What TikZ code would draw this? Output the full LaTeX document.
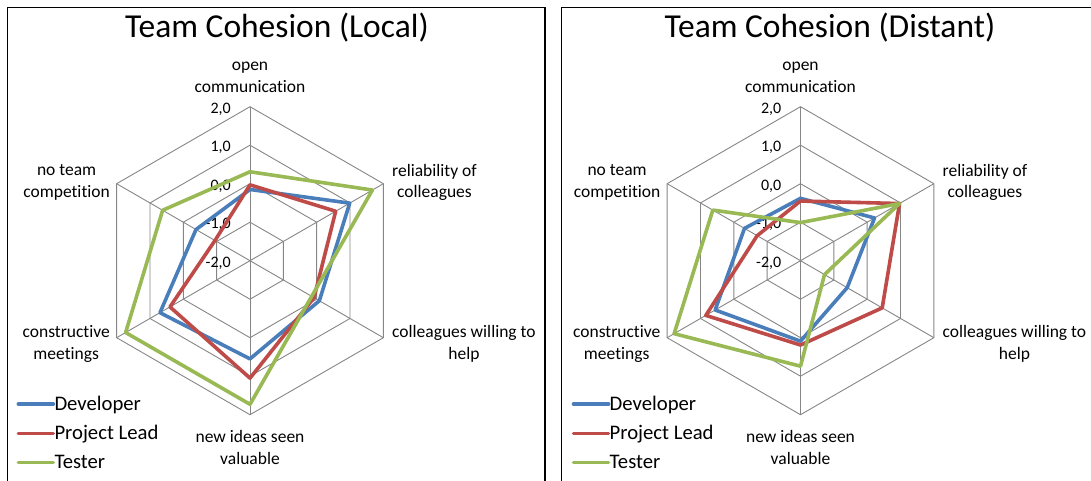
\documentclass[tikz,border=0pt]{standalone}
\usepackage{fontspec}
\setmainfont{Carlito}[RawFeature={-liga;-dlig;-clig}]
\definecolor{gridgray}{RGB}{134,134,134}
\definecolor{devblue}{HTML}{4A7EBB}
\definecolor{leadred}{HTML}{BE4B48}
\definecolor{testgreen}{HTML}{98B954}
\newcommand\radarline[7]{\draw[#1] (-90:{(#2+2)*38.5}) -- (-30:{(#3+2)*38.5}) -- (30:{(#4+2)*38.5}) -- (90:{(#5+2)*38.5}) -- (150:{(#6+2)*38.5}) -- (210:{(#7+2)*38.5}) -- cycle;}
\newcommand\radargrid{%
  \foreach \r in {38.5,77,115.5,154}
    \draw[gridline] (-90:\r) -- (-30:\r) -- (30:\r) -- (90:\r) -- (150:\r) -- (210:\r) -- cycle;
  \foreach \a in {-90,-30,30,90,150,210}
    \draw[gridline] (0,0) -- (\a:154);
  \foreach \v/\t in {2/{2,0},1/{1,0},0/{0,0},-1/{-1,0},-2/{-2,0}}
    \node[ticklabel] at (-19,{-(\v+2)*38.5+2.5}) {\t};
  \node[catlabel, anchor=center] (top) at (0,-183.3) {open\\communication};
  \node[catlabel, anchor=west] (ur) at (142,-78.2) {reliability of\\colleagues};
  \node[catlabel, anchor=west] (lr) at (142,83.2) {colleagues willing to\\help};
  \node[catlabel, anchor=center] (bot) at (0,186.8) {new ideas seen\\valuable};
  \node[catlabel, anchor=east] (ll) at (-140,83.2) {constructive\\meetings};
  \node[catlabel, anchor=east] (ul) at (-140,-78.2) {no team\\competition};
}
\newcommand\radarlegend{%
  \draw[dev, line cap=round] (0,0) -- (35,0);
  \node[legtext] (ldev) at (36,1) {Developer};
  \draw[lead, line cap=round] (0,29.3) -- (35,29.3);
  \node[legtext] (llead) at (36,30.5) {Project Lead};
  \draw[test, line cap=round] (0,58.3) -- (35,58.3);
  \node[legtext] (ltest) at (36,58) {Tester};
}
\begin{document}
\begin{tikzpicture}[x=1pt,y=-1pt,
  gridline/.style={draw=gridgray, line width=0.9pt},
  dev/.style={draw=devblue, line width=3.6pt, line join=round},
  lead/.style={draw=leadred, line width=3.6pt, line join=round},
  test/.style={draw=testgreen, line width=3.6pt, line join=round},
  ticklabel/.style={anchor=east, inner sep=0pt, font=\fontsize{16}{19}\selectfont},
  catlabel/.style={inner sep=0pt, align=center, font=\fontsize{17.5}{21.6}\selectfont},
  legtext/.style={anchor=west, inner sep=0pt, font=\fontsize{20.7}{24}\selectfont},
  titlestyle/.style={inner sep=0pt, font=\fontsize{33.5}{39}\selectfont},
  frame/.style={draw=black, line width=1.4pt}]
\useasboundingbox (0,0) rectangle (1091,480);
\draw[frame] (7.6,500) -- (7.6,7.6) -- (545,7.6) -- (545,500);
\draw[frame] (561.7,500) -- (561.7,7.6) -- (1110,7.6);
\node[titlestyle] (title1) at (277,28) {Team Cohesion (Local)};
\node[titlestyle] (title2) at (830,28) {Team Cohesion (Distant)};
% left chart
\begin{scope}[shift={(250,260.7)}]
  \coordinate (c1) at (0,0);
  \radargrid
  \radarline{dev}{-0.15}{0.99}{0.08}{0.55}{0.7}{-0.38}
  \radarline{lead}{-0.03}{0.57}{-0.08}{1.05}{0.4}{-0.95}
  \radarline{test}{0.31}{1.67}{-0.15}{1.73}{1.73}{0.62}
\end{scope}
% right chart
\begin{scope}[shift={(800.5,260.7)}]
  \coordinate (c2) at (0,0);
  \radargrid
  \radarline{dev}{-0.38}{0.22}{-0.6}{0.09}{0.56}{-0.32}
  \radarline{lead}{-0.45}{0.97}{0.45}{0.19}{0.84}{-0.7}
  \radarline{test}{-1.01}{0.97}{-1.28}{0.74}{1.79}{0.63}
\end{scope}
\begin{scope}[shift={(18.3,404)}]
  \radarlegend
\end{scope}
\begin{scope}[shift={(573.5,404)}]
  \radarlegend
\end{scope}
\end{tikzpicture}
\end{document}
